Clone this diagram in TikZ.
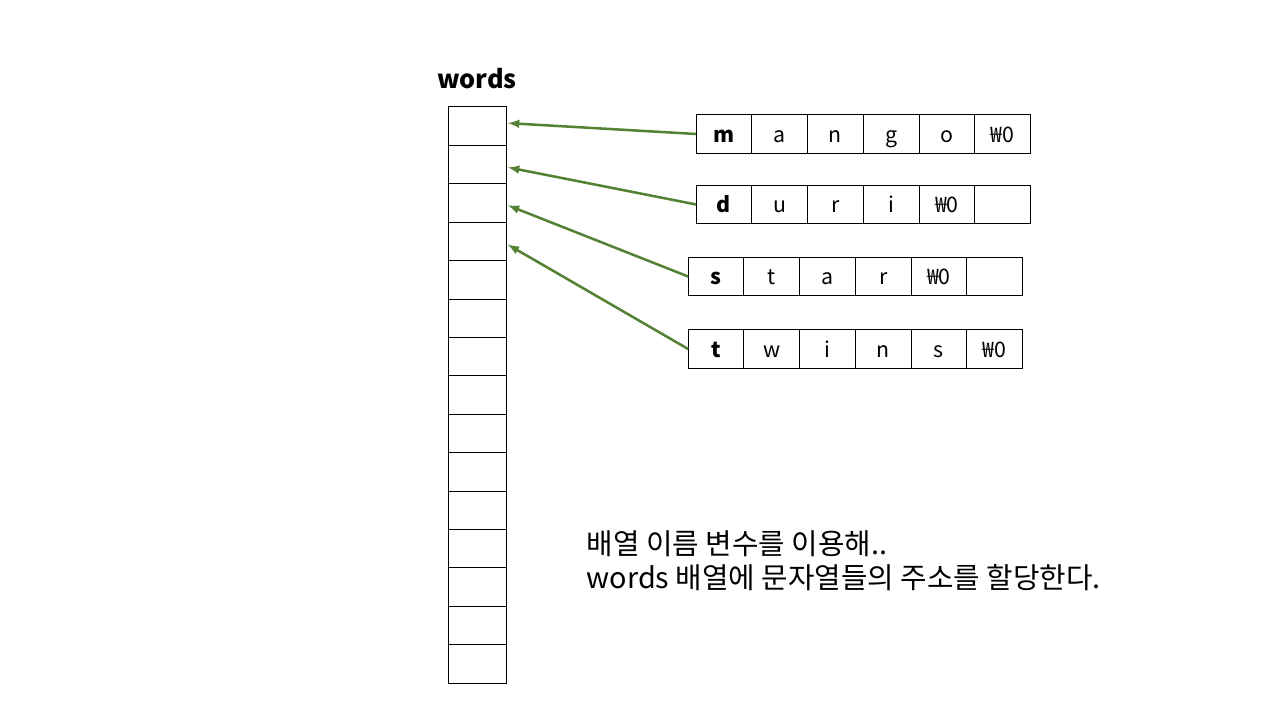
\documentclass[tikz,border=0pt]{standalone}
\usepackage{fontspec}
\setmainfont{Noto Sans CJK KR}
\usetikzlibrary{positioning}
\definecolor{ptrgreen}{RGB}{84,130,53}
\tikzset{
  cell/.style={draw, line width=0.75pt, minimum width=43.5pt, minimum height=28.8pt, inner sep=0pt, outer sep=0pt},
  chr/.style={draw, line width=0.75pt, minimum width=41.8pt, minimum height=28.9pt, inner sep=0pt, outer sep=0pt,
    text height=14pt, text depth=1.5pt, font=\fontsize{16}{19}\selectfont},
  ptr/.style={->, >=latex, line width=1.9pt, draw=ptrgreen, shorten >=1.5pt}
}

\begin{document}
\begin{tikzpicture}[x=0.75pt,y=-0.75pt]
        \useasboundingbox (0,0) rectangle (1280,720);
        \node[font=\fontsize{19}{22}\selectfont\bfseries] (title) at (477,79) {words};
        \foreach \i in {0,...,14}
            \node[cell] (w\i) at (477,{126.2+38.4*\i}) {};
        % mango
        \node[chr, font=\fontsize{16}{19}\selectfont\bfseries] (m0) at (724,134) {m};
        \foreach \c [count=\i, remember=\i as \j (initially 0)] in {a,n,g,o,₩0}
            \node[chr, right=0pt of m\j] (m\i) {\c};
        % durian
        \node[chr, font=\fontsize{16}{19}\selectfont\bfseries] (d0) at (724,204.5) {d};
        \foreach \c [count=\i, remember=\i as \j (initially 0)] in {u,r,i,₩0,{}}
            \node[chr, right=0pt of d\j] (d\i) {\c};
        % star
        \node[chr, font=\fontsize{16}{19}\selectfont\bfseries] (s0) at (716,276.5) {s};
        \foreach \c [count=\i, remember=\i as \j (initially 0)] in {t,a,r,₩0,{}}
            \node[chr, right=0pt of s\j] (s\i) {\c};
        % twins
        \node[chr, font=\fontsize{16}{19}\selectfont\bfseries] (t0) at (716,349) {t};
        \foreach \c [count=\i, remember=\i as \j (initially 0)] in {w,i,n,s,₩0}
            \node[chr, right=0pt of t\j] (t\i) {\c};
        % pointers
        \draw[ptr] (m0.west) -- ([yshift=2.4pt]w0.east);
        \draw[ptr] (d0.west) -- ([yshift=-1.8pt]w1.east);
        \draw[ptr] (s0.west) -- ([yshift=-1.2pt]w2.east);
        \draw[ptr] (t0.west) -- ([yshift=-1.6pt]w3.east);
        \node[anchor=north west, align=left, font=\fontsize{21.6}{25.5}\selectfont] (note) at (582,526)
            {배열 이름 변수를 이용해..\\words 배열에 문자열들의 주소를 할당한다.};
\end{tikzpicture}
\end{document}
